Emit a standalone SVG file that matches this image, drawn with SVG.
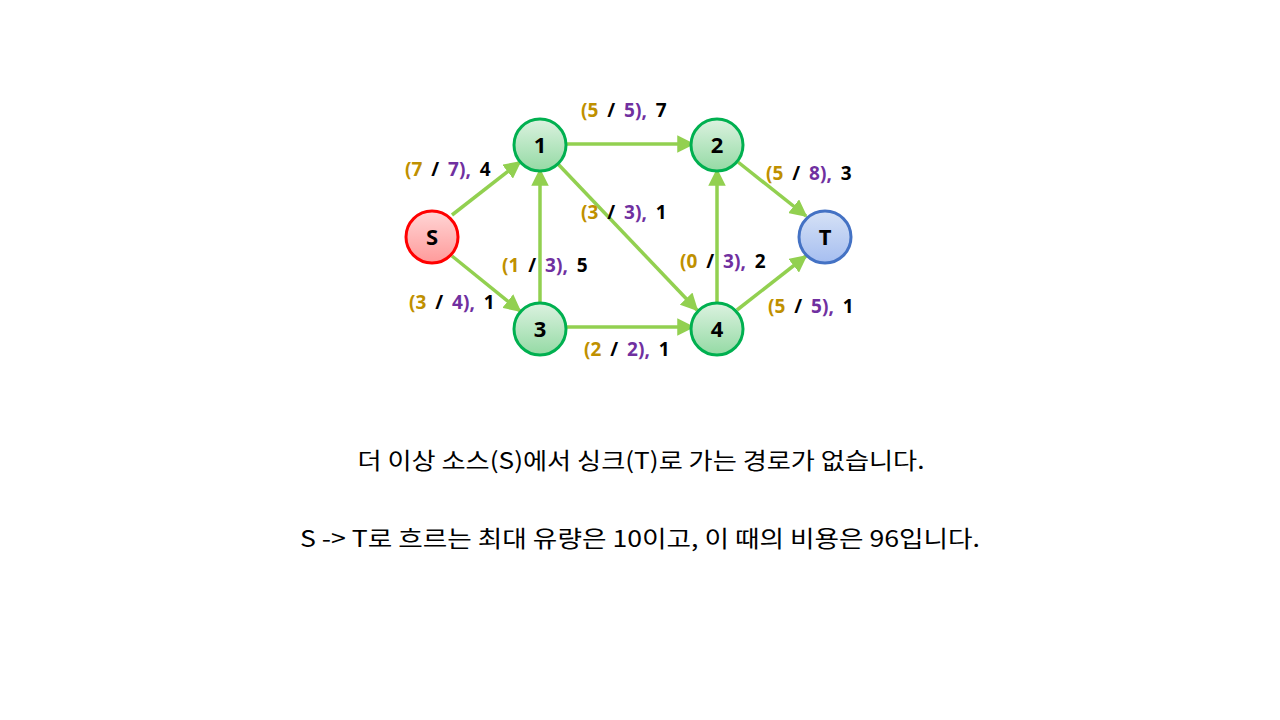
<svg xmlns="http://www.w3.org/2000/svg" width="1280" height="720" viewBox="0 0 1280 720">
<defs>
<linearGradient id="gG" x1="0" y1="0" x2="0" y2="1"><stop offset="0" stop-color="#dcf2e0"/><stop offset="1" stop-color="#94daa4"/></linearGradient>
<linearGradient id="gR" x1="0" y1="0" x2="0" y2="1"><stop offset="0" stop-color="#ffd6d6"/><stop offset="1" stop-color="#ff9a9a"/></linearGradient>
<linearGradient id="gB" x1="0" y1="0" x2="0" y2="1"><stop offset="0" stop-color="#d6e2f6"/><stop offset="1" stop-color="#a6bef0"/></linearGradient>
<marker id="ah" viewBox="0 0 10 10" refX="9" refY="5" markerWidth="5" markerHeight="5" orient="auto" markerUnits="strokeWidth"><path d="M0,0 L10,5 L0,10 z" fill="#92D050"/></marker>
<style>
.e{stroke:#92D050;stroke-width:3.5;fill:none;marker-end:url(#ah)}
.n{stroke-width:3}
.nt{font-family:"Noto Sans","DejaVu Sans",sans-serif;font-weight:bold;font-size:22px;text-anchor:middle;fill:#000}
.lb{font-family:"Noto Sans","DejaVu Sans",sans-serif;font-weight:bold;font-size:19px;word-spacing:4px;fill:#000}
.o{fill:#BF9000}.p{fill:#7030A0}
.kt{font-family:"Noto Sans CJK KR","Noto Sans",sans-serif;font-size:23px;text-anchor:middle;fill:#000}
</style>
</defs>
<rect width="1280" height="720" fill="#fff"/>
<g id="connectors">
<line class="e" x1="452" y1="215" x2="520" y2="162"/>
<line class="e" x1="567" y1="144" x2="693" y2="144"/>
<line class="e" x1="738" y1="162" x2="806" y2="216"/>
<line class="e" x1="452" y1="256" x2="520" y2="311"/>
<line class="e" x1="540" y1="302" x2="540" y2="170"/>
<line class="e" x1="558" y1="164" x2="697" y2="310"/>
<line class="e" x1="717" y1="302" x2="717" y2="170"/>
<line class="e" x1="567" y1="327" x2="693" y2="327"/>
<line class="e" x1="737" y1="310" x2="806" y2="256"/>
</g>
<g id="labels">
<text class="lb" x="405" y="176"><tspan class="o">(7</tspan> / <tspan class="p">7),</tspan> 4</text>
<text class="lb" x="581" y="117"><tspan class="o">(5</tspan> / <tspan class="p">5),</tspan> 7</text>
<text class="lb" x="766" y="180"><tspan class="o">(5</tspan> / <tspan class="p">8),</tspan> 3</text>
<text class="lb" x="581" y="219"><tspan class="o">(3</tspan> / <tspan class="p">3),</tspan> 1</text>
<text class="lb" x="502" y="272"><tspan class="o">(1</tspan> / <tspan class="p">3),</tspan> 5</text>
<text class="lb" x="409" y="309"><tspan class="o">(3</tspan> / <tspan class="p">4),</tspan> 1</text>
<text class="lb" x="680" y="268"><tspan class="o">(0</tspan> / <tspan class="p">3),</tspan> 2</text>
<text class="lb" x="768" y="313"><tspan class="o">(5</tspan> / <tspan class="p">5),</tspan> 1</text>
<text class="lb" x="584" y="356"><tspan class="o">(2</tspan> / <tspan class="p">2),</tspan> 1</text>
</g>
<g id="node-S"><circle class="n" cx="432" cy="237" r="26" fill="url(#gR)" stroke="#FF0000"/><text class="nt" x="432" y="245">S</text></g>
<g id="node-1"><circle class="n" cx="540" cy="145" r="26" fill="url(#gG)" stroke="#00B050"/><text class="nt" x="540" y="153">1</text></g>
<g id="node-2"><circle class="n" cx="717" cy="145" r="26" fill="url(#gG)" stroke="#00B050"/><text class="nt" x="717" y="153">2</text></g>
<g id="node-T"><circle class="n" cx="825" cy="237" r="26" fill="url(#gB)" stroke="#4472C4"/><text class="nt" x="825" y="245">T</text></g>
<g id="node-3"><circle class="n" cx="540" cy="329" r="26" fill="url(#gG)" stroke="#00B050"/><text class="nt" x="540" y="337">3</text></g>
<g id="node-4"><circle class="n" cx="717" cy="329" r="26" fill="url(#gG)" stroke="#00B050"/><text class="nt" x="717" y="337">4</text></g>
<g id="caption">
<text class="kt" x="641" y="469" textLength="567" lengthAdjust="spacingAndGlyphs">더 이상 소스(S)에서 싱크(T)로 가는 경로가 없습니다.</text>
<text class="kt" x="640" y="547" textLength="680" lengthAdjust="spacingAndGlyphs">S -&gt; T로 흐르는 최대 유량은 10이고, 이 때의 비용은 96입니다.</text>
</g>
</svg>
